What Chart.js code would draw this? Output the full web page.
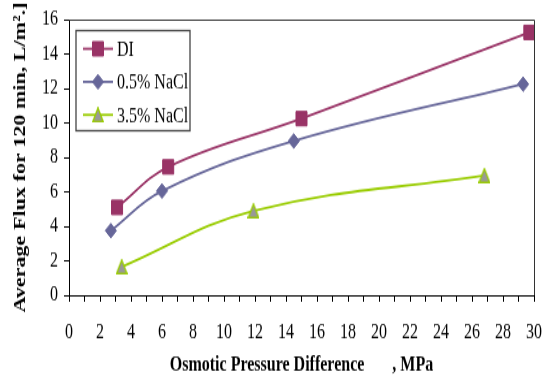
<!DOCTYPE html>
<html>
<head>
<meta charset="utf-8">
<script src="https://cdn.jsdelivr.net/npm/chart.js@4.4.1/dist/chart.umd.min.js"></script>
<style>
html, body { margin: 0; padding: 0; background: #fff; }
/* la figura original esta estirada en vertical: se dibuja mas baja y se estira con CSS */
#grafica { display: block; width: 546px; height: 385px; }
</style>
</head>
<body>
<canvas id="grafica" width="546" height="296" style="width:546px;height:385px"></canvas>
<script>
// datos
const nombres = ['DI', '0.5% NaCl', '3.5% NaCl'];
const xDI = [3.1, 6.4, 15.0, 29.7];
const yDI = [5.1, 7.45, 10.25, 15.25];
const xSal05 = [2.7, 6.0, 14.5, 29.3];
const ySal05 = [3.75, 6.05, 8.95, 12.25];
const xSal35 = [3.4, 11.9, 26.8];
const ySal35 = [1.65, 4.9, 6.95];
const xMin = 0, xMax = 30, xPaso = 2;
const yMin = 0, yMax = 16, yPaso = 2;
const tituloX = 'Osmotic Pressure Difference       , MPa';
const tituloY = 'Average Flux for 120 min, L/m².]';

const colores = ['#993366', '#666699', '#99CC00'];
const fuente = "'Liberation Serif', 'Times New Roman', serif";

// triangulo gris con borde verde
function marca(w, h, dibujo) {
    const c = document.createElement('canvas');
    c.width = w; c.height = h;
    dibujo(c.getContext('2d'));
    return c;
}
const triangulo = marca(12, 12, g => {
    g.fillStyle = '#999999'; g.strokeStyle = '#99CC00'; g.lineWidth = 1.4;
    g.beginPath(); g.moveTo(6, 0.8); g.lineTo(11.2, 11.2); g.lineTo(0.8, 11.2); g.closePath(); g.fill(); g.stroke();
});
const estilos = ['rect', 'rectRot', triangulo];
const radios = [7.8, 5.6, 6];
const rellenos = ['#993366', '#666699', '#999999'];

function puntos(xs, ys) { return xs.map((x, i) => ({ x: x, y: ys[i] })); }
const listas = [[xDI, yDI], [xSal05, ySal05], [xSal35, ySal35]];

// marco arriba/derecha y leyenda dentro del area
const marcoYLeyenda = {
    id: 'marcoYLeyenda',
    afterDraw(chart) {
        const ctx = chart.ctx, a = chart.chartArea;
        ctx.save();
        ctx.strokeStyle = '#333'; ctx.lineWidth = 1;
        ctx.beginPath();
        ctx.moveTo(a.left, a.top + 0.5); ctx.lineTo(a.right + 0.5, a.top + 0.5); ctx.lineTo(a.right + 0.5, a.bottom);
        ctx.stroke();
        // caja de la leyenda
        const lx = a.left + 7, ly = a.top + 8.5;
        ctx.strokeStyle = '#444'; ctx.lineWidth = 1.3;
        ctx.strokeRect(lx, ly, 114, 77);
        ctx.font = '16px ' + fuente;
        ctx.textBaseline = 'middle';
        nombres.forEach((n, i) => {
            const y = ly + 14 + i * 25.4;
            ctx.strokeStyle = colores[i]; ctx.lineWidth = 1.8;
            ctx.beginPath(); ctx.moveTo(lx + 7, y); ctx.lineTo(lx + 37, y); ctx.stroke();
            ctx.fillStyle = rellenos[i];
            ctx.strokeStyle = colores[i];
            ctx.lineWidth = 1;
            Chart.helpers.drawPoint(ctx, {
                pointStyle: estilos[i], radius: radios[i], rotation: 0, borderWidth: 1
            }, lx + 22, y);
            ctx.fillStyle = '#000';
            ctx.fillText(n, lx + 41, y + 1);
        });
        ctx.restore();
    }
};

new Chart(document.getElementById('grafica').getContext('2d'), {
    type: 'scatter',
    data: {
        datasets: nombres.map((n, i) => ({
            label: n,
            data: puntos(listas[i][0], listas[i][1]),
            showLine: true,
            borderColor: colores[i],
            borderWidth: 1.8,
            tension: 0.4,
            pointStyle: estilos[i],
            pointRadius: radios[i],
            pointBorderWidth: 1,
            pointBorderColor: i === 2 ? '#99CC00' : colores[i],
            pointBackgroundColor: rellenos[i],
            backgroundColor: rellenos[i]
        }))
    },
    plugins: [marcoYLeyenda],
    options: {
        responsive: false,
        animation: false,
        layout: { padding: { top: 15, right: 12, left: 0, bottom: 0 } },
        plugins: { legend: { display: false }, tooltip: { enabled: false } },
        scales: {
            x: {
                type: 'linear', min: xMin, max: xMax,
                afterFit: s => { s.height = 69; s.paddingLeft = 0; s.paddingRight = 0; },
                border: { color: '#000', width: 1 },
                grid: { drawOnChartArea: false, tickLength: 5, color: '#000' },
                ticks: {
                    stepSize: 1, autoSkip: false, maxRotation: 0, padding: 14,
                    color: '#000', font: { family: fuente, size: 16 },
                    callback: v => (v % xPaso === 0 ? v : '')
                },
                title: {
                    display: true, text: tituloX, color: '#000',
                    font: { family: fuente, size: 16, weight: 'bold' },
                    padding: { top: 0, bottom: 6 }
                }
            },
            y: {
                min: yMin, max: yMax,
                afterFit: s => { s.width = 69; s.paddingTop = 0; s.paddingBottom = 0; },
                border: { color: '#000', width: 1 },
                grid: { drawOnChartArea: false, tickLength: 5, color: '#000' },
                ticks: {
                    stepSize: yPaso, padding: 6,
                    color: '#000', font: { family: fuente, size: 16 }
                },
                title: {
                    display: true, text: tituloY, color: '#000',
                    font: { family: fuente, size: 17, weight: 'bold' },
                    padding: { top: 10, bottom: 0 }
                }
            }
        }
    }
});
</script>
</body>
</html>
